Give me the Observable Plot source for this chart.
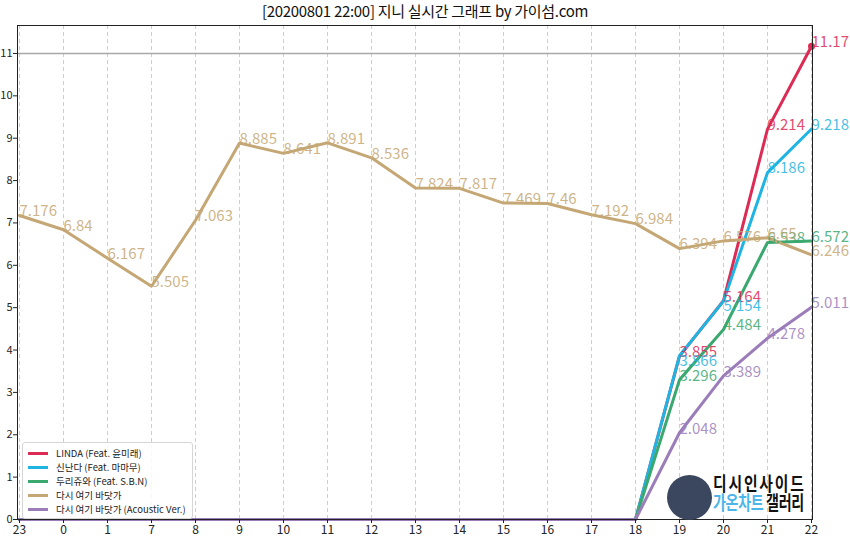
<!DOCTYPE html>
<html>
<head>
<meta charset="utf-8">
<script src="https://cdn.jsdelivr.net/npm/d3@7"></script>
<script src="https://cdn.jsdelivr.net/npm/@observablehq/plot@0.6"></script>
<style>
  html, body { margin: 0; padding: 0; background: #fff; }
  body { width: 850px; height: 540px; overflow: hidden; position: relative; font-family: "Noto Sans CJK KR", "Noto Sans", sans-serif; }
  #title { height: 20px; line-height: 22px; text-align: center; font-size: 15px; color: #111; letter-spacing: -0.3px; }
  #legend { position: absolute; left: 22px; top: 442px; padding: 3px 6px 2px 0; background: rgba(255,255,255,0.85); border: 1px solid #d6d6d6; border-radius: 3px; font-size: 9.5px; color: #222; white-space: nowrap; }
  #legend .row { height: 14px; display: flex; align-items: center; }
  #legend .sw { width: 20px; height: 3px; margin: 0 8px 0 5px; }
  #logo { position: absolute; left: 667px; top: 474px; width: 160px; height: 46px; white-space: nowrap; }
  #logo .circ { position: absolute; left: 0; top: 1px; width: 45px; height: 45px; border-radius: 50%; background: #3b475f; }
  #logo .l1 { position: absolute; left: 46px; top: -2px; font-size: 19px; font-weight: bold; color: #111; letter-spacing: -1px; line-height: 22px; transform: scaleX(0.78); transform-origin: left center; }
  #logo .l2 { position: absolute; left: 46px; top: 17px; font-size: 19px; font-weight: bold; line-height: 22px; letter-spacing: -0.5px; transform: scaleX(0.74); transform-origin: left center; }
</style>
</head>
<body>
<div id="title">[20200801 22:00] 지니 실시간 그래프 by 가이섬.com</div>
<div id="chart"></div>
<div id="legend"></div>
<div id="logo"><div class="circ"></div><div class="l1">디 시 인 사 이 드</div><div class="l2"><span style="color:#4cb6ea">가온차트</span> <span style="color:#111">갤러리</span></div></div>
<script>
const hours = ["23","0","1","7","8","9","10","11","12","13","14","15","16","17","18","19","20","21","22"];
const seriesNames = ["LINDA (Feat. 윤미래)", "신난다 (Feat. 마마무)", "두리쥬와 (Feat. S.B.N)", "다시 여기 바닷가", "다시 여기 바닷가 (Acoustic Ver.)"];
const seriesColors = ["#dc2b54", "#1fb4e2", "#3ba870", "#c4a774", "#9b7dba"];

const linda   = [0,0,0,0,0,0,0,0,0,0,0,0,0,0,0,3.855,5.164,9.214,11.17];
const sinnanda= [0,0,0,0,0,0,0,0,0,0,0,0,0,0,0,3.866,5.154,8.186,9.218];
const durijwa = [0,0,0,0,0,0,0,0,0,0,0,0,0,0,0,3.296,4.484,6.538,6.572];
const badatga = [7.176,6.84,6.167,5.505,7.063,8.885,8.641,8.891,8.536,7.824,7.817,7.469,7.46,7.192,6.984,6.394,6.576,6.65,6.246];
const acoustic= [0,0,0,0,0,0,0,0,0,0,0,0,0,0,0,2.048,3.389,4.278,5.011];
const yTicks = [0,1,2,3,4,5,6,7,8,9,10,11];

const allSeries = [linda, sinnanda, durijwa, badatga, acoustic];
const rows = [];
allSeries.forEach((vals, i) => vals.forEach((v, j) => {
  // push a label below its point when it would collide with the first series' label
  const clash = i === 1 && Math.abs(v - linda[j]) < 0.3 && v > 0;
  rows.push({series: seriesNames[i], hour: hours[j], value: v, below: clash});
}));
const labelled = rows.filter(d => d.value > 0);

const textOpts = {x: "hour", y: "value", text: d => String(d.value), fill: "series", textAnchor: "start", fontSize: 15, fillOpacity: 0.85};

const plot = Plot.plot({
  width: 850, height: 520,
  marginTop: 5, marginBottom: 21, marginLeft: 17, marginRight: 38,
  style: {fontFamily: "'Noto Sans CJK KR', 'Noto Sans', sans-serif", background: "transparent"},
  x: {type: "point", domain: hours, padding: 0, label: null},
  y: {domain: [0, 11.66], label: null},
  color: {domain: seriesNames, range: seriesColors},
  marks: [
    Plot.ruleX(hours, {stroke: "#c8c8c8", strokeDasharray: "4,3", strokeWidth: 0.9}),
    Plot.ruleY([11], {stroke: "#a8a8a8", strokeWidth: 1.6}),
    Plot.line(rows, {x: "hour", y: "value", z: "series", stroke: "series", strokeWidth: 3, strokeLinejoin: "miter"}),
    Plot.dot(rows.filter(d => d.series === seriesNames[0] && d.hour === "22"), {x: "hour", y: "value", fill: "series", r: 3.5}),
    Plot.text(labelled.filter(d => !d.below), {...textOpts, dy: -4}),
    Plot.text(labelled.filter(d => d.below), {...textOpts, dy: 5}),
    Plot.frame({stroke: "#222", strokeWidth: 1}),
    Plot.axisX({tickSize: 4, tickPadding: 2, fontSize: 12, color: "#222", label: null}),
    Plot.axisY({ticks: yTicks, tickSize: 4, tickPadding: 1, fontSize: 11, color: "#222", label: null})
  ]
});
document.getElementById("chart").appendChild(plot);

const legend = document.getElementById("legend");
seriesNames.forEach((n, i) => {
  const r = document.createElement("div");
  r.className = "row";
  r.innerHTML = `<span class="sw" style="background:${seriesColors[i]}"></span><span>${n}</span>`;
  legend.appendChild(r);
});
</script>
</body>
</html>
